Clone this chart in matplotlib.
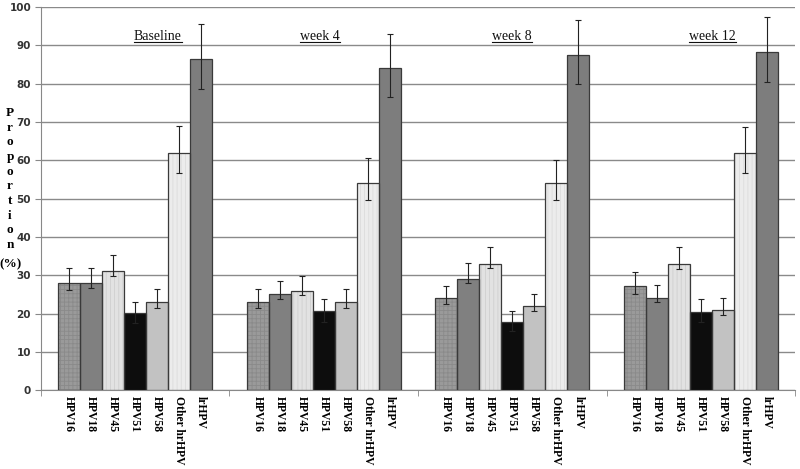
import matplotlib.pyplot as plt
import numpy as np

plt.rcParams['hatch.linewidth'] = 0.6

timepoints = ["Baseline", "week 4", "week 8", "week 12"]
types = ["HPV16", "HPV18", "HPV45", "HPV51", "HPV58", "Other hrHPV", "lrHPV"]

# proportion (%) per type, one list per timepoint
baseline = [28.0, 28.0, 31.0, 20.2, 22.9, 61.9, 86.4]
week4 = [23.1, 25.0, 25.9, 20.6, 23.1, 54.1, 84.0]
week8 = [24.1, 28.9, 33.0, 17.9, 22.0, 54.0, 87.5]
week12 = [27.1, 24.1, 33.0, 20.5, 21.0, 61.8, 88.2]

# error bar ends (lower, upper)
baseline_lo = [26.1, 26.8, 29.8, 17.5, 21.5, 56.7, 78.6]
baseline_hi = [31.9, 31.9, 35.2, 23.1, 26.3, 68.9, 95.6]
week4_lo = [21.5, 23.8, 24.9, 17.8, 21.5, 49.6, 76.6]
week4_hi = [26.3, 28.5, 29.7, 23.7, 26.3, 60.5, 93.0]
week8_lo = [22.6, 28.0, 31.8, 15.5, 20.8, 49.6, 79.8]
week8_hi = [27.3, 33.1, 37.3, 20.8, 25.2, 60.2, 96.7]
week12_lo = [25.2, 23.0, 31.7, 17.8, 19.6, 56.7, 80.4]
week12_hi = [30.8, 27.5, 37.3, 23.7, 24.1, 68.8, 97.5]

values = [baseline, week4, week8, week12]
lows = [baseline_lo, week4_lo, week8_lo, week12_lo]
highs = [baseline_hi, week4_hi, week8_hi, week12_hi]

face = ['#9a9a9a', '#808080', '#e2e2e2', '#0d0d0d', '#c2c2c2', '#ececec', '#7d7d7d']
hatch_col = ['#8a8a8a', '#808080', '#cfcfcf', '#0d0d0d', '#c2c2c2', '#dcdcdc', '#7d7d7d']
hatches = ['++++', None, '||||', None, None, '||||', None]

fig = plt.figure(figsize=(8, 4.69), dpi=100)
ax = fig.add_axes([0.051, 0.168, 0.943, 0.817])

width = 0.1167
x = np.arange(len(timepoints))
centers = []
labels = []
for j, t in enumerate(types):
    pos = x - 3 * width + j * width
    vals = np.array([v[j] for v in values])
    lo = np.array([l[j] for l in lows])
    hi = np.array([h[j] for h in highs])
    ax.bar(pos, vals, width, color=face[j], edgecolor=hatch_col[j], hatch=hatches[j],
           linewidth=0, zorder=3)
    ax.bar(pos, vals, width, fill=False, edgecolor='#3a3a3a', linewidth=0.9, zorder=4)
    ax.errorbar(pos, vals, yerr=[vals - lo, hi - vals], fmt='none', ecolor='#222222',
                elinewidth=0.8, capsize=2.5, capthick=0.8, zorder=5)
    centers.extend(pos)
    labels.extend([t] * len(pos))

order = np.argsort(centers)
ax.set_xticks(np.array(centers)[order])
ax.set_xticklabels(np.array(labels)[order], rotation=-90, fontfamily='Liberation Serif',
                   fontweight='bold', fontsize=8.4)
ax.tick_params(axis='x', which='major', length=0, pad=4)
ax.set_xticks(np.arange(-0.5, 4, 1), minor=True)
ax.tick_params(axis='x', which='minor', length=4, color='#888888', direction='out')

ax.set_xlim(-0.5, 3.5)
ax.set_ylim(0, 100)
ax.set_yticks(np.arange(0, 101, 10))
ax.tick_params(axis='y', length=4, color='#888888', labelsize=7.5, pad=3)
for lab in ax.get_yticklabels():
    lab.set_fontweight('bold')
    lab.set_color('#333333')
ax.yaxis.grid(True, color='#8a8a8a', linewidth=1.0, zorder=0)
ax.set_axisbelow(True)
for s in ['top', 'right']:
    ax.spines[s].set_visible(False)
for s in ['left', 'bottom']:
    ax.spines[s].set_color('#888888')

title_x = [0.12, -0.02, 0.0, 0.06]
titles = []
for i, t in enumerate(timepoints):
    titles.append(ax.text(x[i] + title_x[i], 92.3, t, ha='center', va='center',
                          fontfamily='Liberation Serif', fontsize=10, color='#111111'))

# underline the group titles
renderer = fig.canvas.get_renderer()
inv = ax.transData.inverted()
for tx in titles:
    bb = tx.get_window_extent(renderer)
    (x0, y0), (x1, _) = inv.transform([(bb.x0, bb.y0 + 1), (bb.x1, bb.y0 + 1)])
    ax.plot([x0, x1], [y0, y0], color='#111111', lw=0.8, zorder=6)

# stacked y label
fig.text(0.0125, 1 - 179 / 469, '\n'.join(list('Proportion')), ha='center', va='center',
         fontfamily='Liberation Serif', fontweight='bold', fontsize=9.5, linespacing=1.3)
fig.text(0.0135, 1 - 264 / 469, '(%)', ha='center', va='center',
         fontfamily='Liberation Serif', fontweight='bold', fontsize=9.5)

plt.savefig('out.png', dpi=100)
